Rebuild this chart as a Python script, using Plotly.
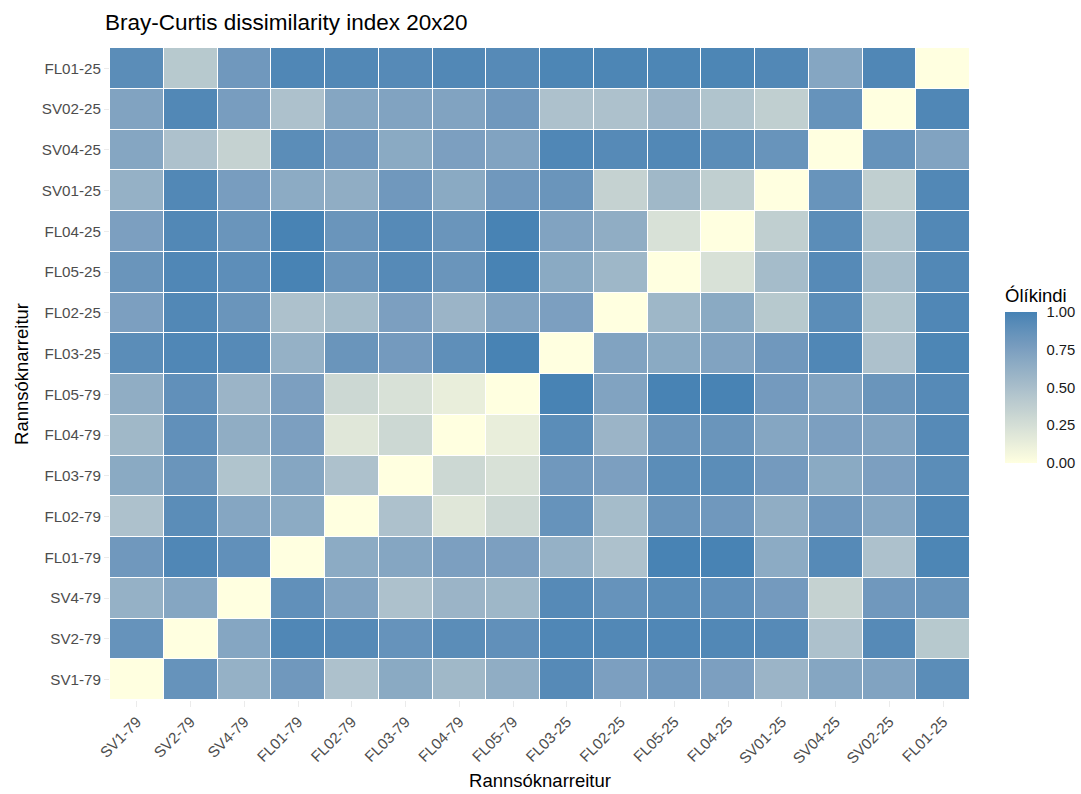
import plotly.graph_objects as go
import numpy as np

sites = ["SV1-79", "SV2-79", "SV4-79", "FL01-79", "FL02-79", "FL03-79", "FL04-79", "FL05-79",
         "FL03-25", "FL02-25", "FL05-25", "FL04-25", "SV01-25", "SV04-25", "SV02-25", "FL01-25"]

# rows listed bottom (SV1-79) to top (FL01-25); columns in the same order as sites
row_SV1_79  = [0.00, 0.86, 0.61, 0.81, 0.48, 0.67, 0.55, 0.64, 0.93, 0.75, 0.81, 0.75, 0.58, 0.70, 0.72, 0.91]
row_SV2_79  = [0.86, 0.00, 0.70, 0.96, 0.93, 0.86, 0.91, 0.88, 0.96, 0.95, 0.96, 0.95, 0.93, 0.48, 0.93, 0.42]
row_SV4_79  = [0.61, 0.70, 0.00, 0.88, 0.72, 0.48, 0.58, 0.56, 0.93, 0.86, 0.91, 0.88, 0.79, 0.34, 0.81, 0.84]
row_FL01_79 = [0.81, 0.96, 0.88, 0.00, 0.66, 0.70, 0.75, 0.75, 0.61, 0.48, 0.99, 0.99, 0.66, 0.93, 0.48, 0.97]
row_FL02_79 = [0.48, 0.91, 0.70, 0.66, 0.00, 0.48, 0.18, 0.30, 0.86, 0.52, 0.84, 0.81, 0.64, 0.81, 0.70, 0.95]
row_FL03_79 = [0.67, 0.84, 0.46, 0.70, 0.48, 0.00, 0.30, 0.23, 0.81, 0.75, 0.91, 0.91, 0.79, 0.67, 0.75, 0.91]
row_FL04_79 = [0.55, 0.88, 0.64, 0.75, 0.18, 0.30, 0.00, 0.13, 0.91, 0.58, 0.84, 0.84, 0.70, 0.75, 0.72, 0.93]
row_FL05_79 = [0.64, 0.88, 0.58, 0.75, 0.30, 0.23, 0.13, 0.00, 0.99, 0.72, 0.99, 0.99, 0.79, 0.72, 0.84, 0.93]
row_FL03_25 = [0.91, 0.96, 0.93, 0.61, 0.84, 0.79, 0.89, 0.99, 0.00, 0.72, 0.67, 0.72, 0.81, 0.96, 0.48, 0.97]
row_FL02_25 = [0.75, 0.95, 0.84, 0.48, 0.52, 0.75, 0.58, 0.72, 0.75, 0.00, 0.56, 0.67, 0.42, 0.91, 0.46, 0.96]
row_FL05_25 = [0.84, 0.96, 0.90, 0.99, 0.84, 0.93, 0.84, 0.99, 0.67, 0.56, 0.00, 0.23, 0.52, 0.93, 0.52, 0.95]
row_FL04_25 = [0.75, 0.95, 0.84, 0.99, 0.84, 0.93, 0.84, 0.99, 0.72, 0.64, 0.23, 0.00, 0.37, 0.91, 0.46, 0.95]
row_SV01_25 = [0.61, 0.95, 0.77, 0.66, 0.64, 0.81, 0.67, 0.81, 0.84, 0.34, 0.55, 0.37, 0.00, 0.85, 0.37, 0.95]
row_SV04_25 = [0.70, 0.48, 0.34, 0.91, 0.81, 0.67, 0.75, 0.72, 0.96, 0.93, 0.95, 0.91, 0.85, 0.00, 0.86, 0.72]
row_SV02_25 = [0.72, 0.95, 0.77, 0.48, 0.70, 0.72, 0.72, 0.81, 0.48, 0.48, 0.58, 0.46, 0.37, 0.86, 0.00, 0.96]
row_FL01_25 = [0.91, 0.42, 0.81, 0.96, 0.95, 0.93, 0.95, 0.93, 0.97, 0.97, 0.97, 0.97, 0.95, 0.70, 0.96, 0.00]

z = [row_SV1_79, row_SV2_79, row_SV4_79, row_FL01_79, row_FL02_79, row_FL03_79, row_FL04_79, row_FL05_79,
     row_FL03_25, row_FL02_25, row_FL05_25, row_FL04_25, row_SV01_25, row_SV04_25, row_SV02_25, row_FL01_25]

legend_ticks = [0, 0.25, 0.5, 0.75, 1.0]
legend_labels = ["0.00", "0.25", "0.50", "0.75", "1.00"]

# colour scale: lightyellow -> steelblue interpolated in CIELAB (like ggplot2)
def srgb_to_lab(c):
    c = np.array(c) / 255.0
    c = np.where(c > 0.04045, ((c + 0.055) / 1.055) ** 2.4, c / 12.92)
    M = np.array([[0.4124, 0.3576, 0.1805], [0.2126, 0.7152, 0.0722], [0.0193, 0.1192, 0.9505]])
    xyz = M @ c / np.array([0.95047, 1.0, 1.08883])
    f = np.where(xyz > 0.008856, np.cbrt(xyz), 7.787 * xyz + 16 / 116)
    return np.array([116 * f[1] - 16, 500 * (f[0] - f[1]), 200 * (f[1] - f[2])])

def lab_to_srgb(lab):
    L, a, b = lab
    fy = (L + 16) / 116
    fx = fy + a / 500
    fz = fy - b / 200
    f = np.array([fx, fy, fz])
    xyz = np.where(f ** 3 > 0.008856, f ** 3, (f - 16 / 116) / 7.787) * np.array([0.95047, 1.0, 1.08883])
    Minv = np.array([[3.2406, -1.5372, -0.4986], [-0.9689, 1.8758, 0.0415], [0.0557, -0.2040, 1.0570]])
    c = Minv @ xyz
    c = np.where(c > 0.0031308, 1.055 * np.clip(c, 0, None) ** (1 / 2.4) - 0.055, 12.92 * c)
    c = np.clip(c, 0, 1) * 255
    return "rgb(%d,%d,%d)" % tuple(np.round(c).astype(int))

low = srgb_to_lab((255, 255, 224))
high = srgb_to_lab((70, 130, 180))
colorscale = [[t, lab_to_srgb(low + (high - low) * t)] for t in np.linspace(0, 1, 21)]

# plot-area geometry in pixels
L_, R_, T_, B_ = 110, 970, 48, 700
W_, H_ = R_ - L_, B_ - T_
def px_x(x): return (x - L_) / W_
def px_y(y): return (B_ - y) / H_

# legend bar geometry (pixels)
CB_X0, CB_W, CB_TOP, CB_LEN = 1005, 32, 312, 151

fig = go.Figure(go.Heatmap(
    z=z, x=sites, y=sites,
    colorscale=colorscale, zmin=0, zmax=1,
    xgap=1, ygap=1,
    hovertemplate="%{x} / %{y}: %{z:.2f}<extra></extra>",
    colorbar=dict(
        lenmode="pixels", len=CB_LEN, thickness=CB_W,
        x=px_x(CB_X0), xanchor="left", y=px_y(CB_TOP + CB_LEN / 2), yanchor="middle",
        outlinewidth=0, xpad=0, ypad=0,
        tickvals=legend_ticks, ticktext=legend_labels,
        ticks="outside", ticklen=7, tickcolor="rgba(255,255,255,0)", tickwidth=1,
        tickfont=dict(size=14.8, color="#1a1a1a"),
    ),
))

# small white tick marks inside the legend bar, on both edges (ggplot style)
for v in legend_ticks[1:-1]:
    yy = px_y(CB_TOP + CB_LEN - v * CB_LEN)
    for xa, xb in [(CB_X0, CB_X0 + 6), (CB_X0 + CB_W - 6, CB_X0 + CB_W)]:
        fig.add_shape(type="line", xref="paper", yref="paper",
                      x0=px_x(xa), x1=px_x(xb), y0=yy, y1=yy,
                      line=dict(color="white", width=1))

fig.add_annotation(text="Ólíkindi", xref="paper", yref="paper",
                   x=px_x(1003), y=px_y(295), xanchor="left", yanchor="middle",
                   showarrow=False, font=dict(size=18.5, color="black"))

fig.update_layout(
    width=1081, height=794,
    margin=dict(l=L_, r=1081 - R_, t=T_, b=794 - B_, autoexpand=False),
    paper_bgcolor="white", plot_bgcolor="white",
    font=dict(family="Liberation Sans, Arial, sans-serif"),
    title=dict(text="Bray-Curtis dissimilarity index 20x20", x=105 / 1081, xanchor="left",
               y=1 - 22 / 794, yanchor="middle", font=dict(size=22.5, color="black")),
    xaxis=dict(title=dict(text="Rannsóknarreitur", font=dict(size=18.5, color="black"), standoff=8),
               tickangle=-45, tickfont=dict(size=15.2, color="#4d4d4d"),
               ticks="outside", ticklen=6, tickcolor="#ebebeb", showgrid=False, zeroline=False,
               automargin=False),
    yaxis=dict(title=dict(text="Rannsóknarreitur", font=dict(size=18.5, color="black"), standoff=8),
               tickfont=dict(size=15.2, color="#4d4d4d"),
               ticks="outside", ticklen=5, tickcolor="#ebebeb", showgrid=False, zeroline=False,
               automargin=False),
)

fig.write_html("out.html")
